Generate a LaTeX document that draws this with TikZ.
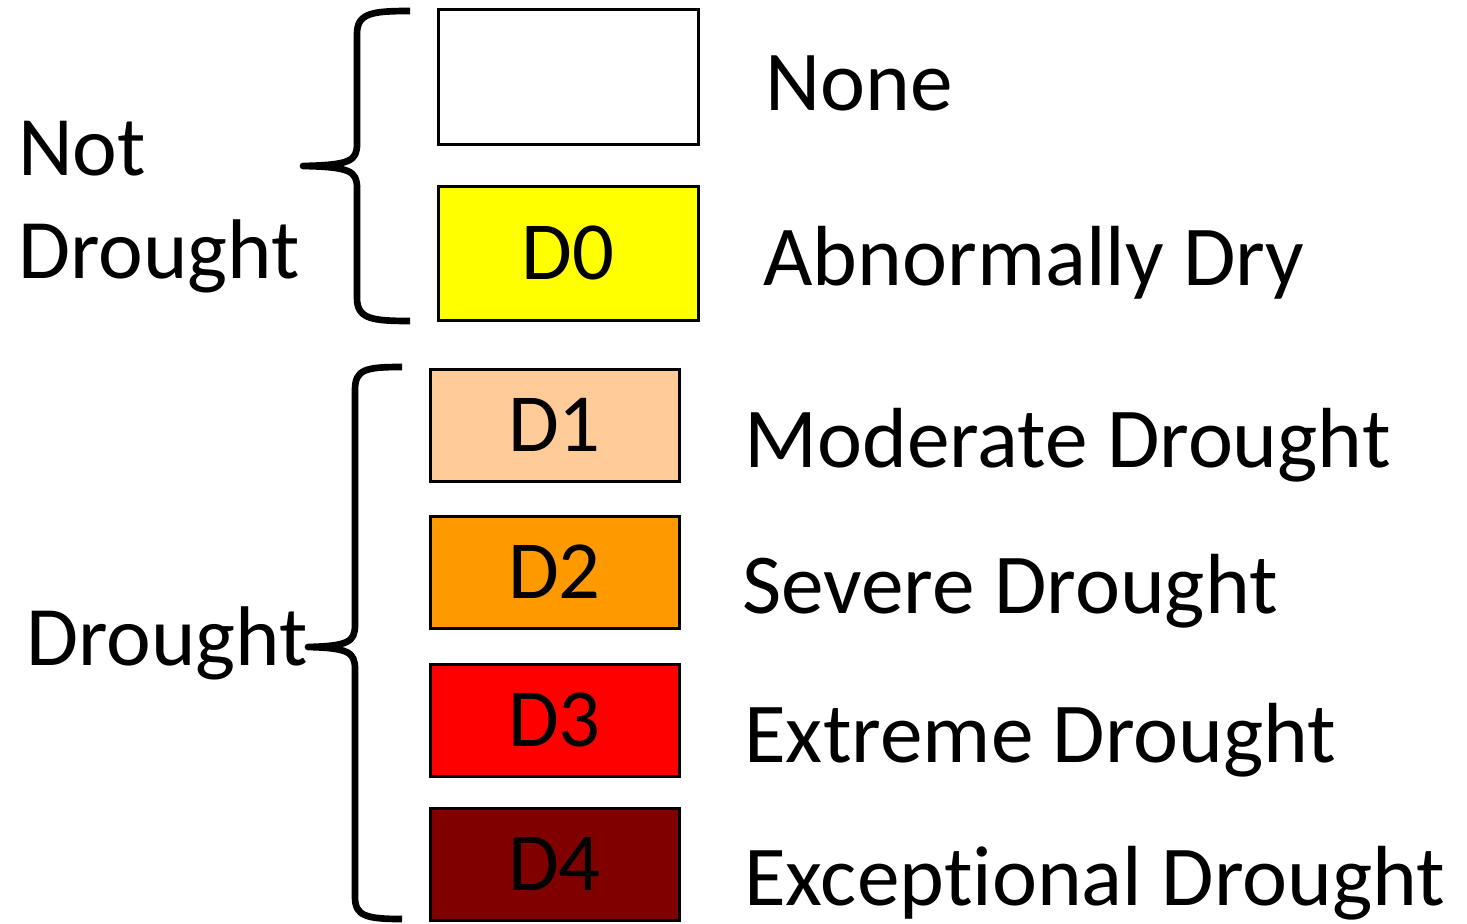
\documentclass[tikz,border=0pt]{standalone}
\usepackage{fontspec}
\setmainfont[Ligatures=NoCommon]{Carlito}
\definecolor{dnone}{RGB}{255,255,255}
\definecolor{dzero}{RGB}{255,255,0}
\definecolor{done}{RGB}{255,204,153}
\definecolor{dtwo}{RGB}{255,153,0}
\definecolor{dthree}{RGB}{255,0,0}
\definecolor{dfour}{RGB}{128,0,0}
\begin{document}
\begin{tikzpicture}[x=0.75pt,y=-0.75pt,
  catbox/.style={draw=black,line width=2.25pt,inner sep=0pt,font=\fontsize{62}{74}\selectfont},
  wide/.style={catbox,minimum width=195pt,minimum height=100.5pt},
  narrow/.style={catbox,minimum width=186.75pt,minimum height=84pt},
  desc/.style={anchor=base west,inner sep=0pt,font=\fontsize{64}{77}\selectfont},
  group/.style={anchor=base west,inner sep=0pt,font=\fontsize{63.5}{77}\selectfont},
  brace/.style={draw=black,line width=5pt,line join=round}]
\useasboundingbox (0,0) rectangle (1467,924);

% category swatches
\node[wide,fill=dnone]   (none)  at (568,77)  {};
\node[wide,fill=dzero]   (d0box) at (568,253) {D0};
\node[narrow,fill=done]  (d1box) at (554.5,425) {D1};
\node[narrow,fill=dtwo]  (d2box) at (554.5,572) {D2};
\node[narrow,fill=dthree](d3box) at (554.5,720) {D3};
\node[narrow,fill=dfour] (d4box) at (554.5,864) {D4};

% category descriptions
\node[desc] (tnone) at (765,110) {None};
\node[desc] (td0)   at (763,285) {Abnormally Dry};
\node[desc] (td1)   at (744,467) {Moderate Drought};
\node[desc] (td2)   at (742,613) {Severe Drought};
\node[desc] (td3)   at (744,762) {Extreme Drought};
\node[desc] (td4)   at (744,905) {Exceptional Drought};

% group labels
\node[group] (notdry)  at (18,175) {Not};
\node[group] (notdry2) at (18,278) {Drought};
\node[group] (dry)     at (26,665) {Drought};

% brace for the non-drought classes
\path[brace] (410,11) .. controls (372,11) and (357,13) .. (357,34)
  -- (357,144) .. controls (357,161) and (350,165) .. (303,166)
  .. controls (350,167) and (357,171) .. (357,188)
  -- (357,298) .. controls (357,319) and (372,321) .. (410,321);

% brace for the drought classes
\path[brace] (402,367) .. controls (366,367) and (355,369) .. (355,390)
  -- (355,625) .. controls (355,642) and (348,646) .. (308,647)
  .. controls (348,648) and (355,652) .. (355,669)
  -- (355,897) .. controls (355,916) and (366,919) .. (402,919);
\end{tikzpicture}
\end{document}
